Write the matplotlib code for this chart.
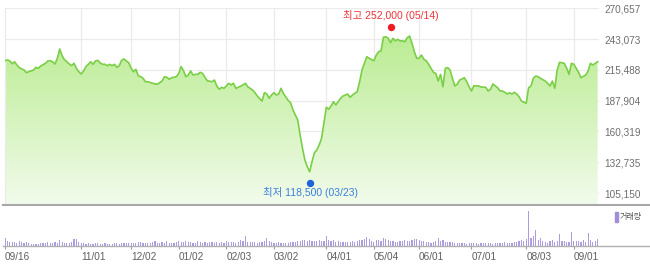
import numpy as np
import matplotlib
matplotlib.use("Agg")
import matplotlib.pyplot as plt
from matplotlib.colors import LinearSegmentedColormap
from matplotlib.lines import Line2D
from matplotlib.patches import Rectangle
import matplotlib.transforms as mtransforms

# ---------------- data ----------------
# trading-day index (0 = 2019-09-16) and closing price
days = [0, 1, 2, 3, 4, 5, 6, 8, 9, 10, 12, 13, 14, 15, 17, 18, 19, 20, 21, 22,
        23, 24, 25, 26, 27, 28, 29, 30, 31, 32, 33, 34, 35, 36, 37, 38, 39, 40,
        41, 42, 43, 44, 45, 46, 47, 48, 49, 50, 51, 52, 53, 54, 55, 56, 57, 58,
        59, 60, 62, 64, 65, 66, 67, 68, 69, 70, 72, 73, 74, 75, 76, 77, 78, 79,
        80, 81, 82, 83, 84, 85, 87, 88, 89, 90, 91, 92, 93, 94, 95, 96, 97, 98,
        100, 101, 102, 104, 105, 106, 108, 109, 110, 111, 112, 113, 114, 115,
        116, 117, 118, 119, 120, 121, 123, 124, 125, 126, 127, 128, 129, 130,
        131, 132, 133, 134, 135, 136, 137, 138, 139, 140, 141, 142, 144, 145,
        146, 147, 148, 149, 150, 152, 153, 155, 156, 157, 158, 159, 160, 161,
        162, 163, 164, 165, 166, 167, 168, 169, 170, 171, 172, 173, 174, 175,
        176, 177, 178, 179, 180, 181, 182, 183, 184, 185, 186, 187, 188, 189,
        190, 191, 192, 193, 194, 195, 196, 197, 199, 200, 202, 203, 204, 205,
        207, 208, 209, 210, 211, 212, 213, 214, 215, 216, 217, 219, 220, 221,
        222, 223, 224, 225, 227, 228, 229, 230, 231, 232, 233, 235, 236, 237,
        238, 239, 240, 241, 242, 244, 245, 246, 247, 248, 249]
closes = [223700, 224400, 223500, 221000, 222800, 219900, 217500, 215400, 213000,
          213900, 215400, 217800, 216900, 219000, 221400, 223500, 223700, 222800,
          220800, 225900, 234200, 228200, 224600, 222800, 220800, 219300, 221400,
          216900, 213900, 211800, 214500, 218400, 220500, 222800, 220500, 223500,
          224100, 221700, 220500, 220500, 219300, 220500, 219300, 220500, 217800,
          219300, 224100, 225300, 223500, 221900, 216900, 213900, 216000, 210300,
          209400, 208000, 204900, 204900, 203500, 202600, 204000, 205500, 209400,
          208900, 207100, 208500, 209400, 212400, 218400, 214800, 209400, 210900,
          214500, 210900, 211500, 211500, 213300, 212400, 208900, 205800, 204900,
          206400, 201100, 198100, 199900, 199000, 201100, 203500, 202000, 203500,
          199000, 199900, 202000, 203500, 200400, 197500, 195100, 192100, 187600,
          195100, 193900, 190000, 193000, 195100, 193000, 193900, 199000, 194300,
          191200, 188100, 186100, 179600, 170600, 157200, 145300, 134800, 128800,
          124300, 133300, 141300, 143700, 148200, 154200, 167700, 182000, 180200,
          183200, 187000, 184100, 187000, 190000, 192100, 193900, 190900, 193000,
          194500, 196000, 204900, 215400, 227300, 225900, 223700, 228800, 231800,
          232700, 244700, 245200, 243800, 239800, 243800, 241600, 242900, 241400,
          241600, 240700, 244300, 245800, 239300, 231800, 225900, 225900, 228800,
          225000, 223700, 220500, 216900, 213300, 212400, 205500, 211500, 200400,
          216900, 217500, 215400, 208000, 201100, 202600, 206400, 207300, 208500,
          204900, 200400, 196600, 201300, 201100, 200200, 199900, 196600, 198100,
          202900, 199500, 196600, 196600, 195400, 193900, 195100, 193900, 195400,
          193900, 191500, 187600, 185600, 199500, 201100, 208000, 210000, 209400,
          208000, 205500, 203500, 201100, 205500, 199000, 215400, 222300, 221400,
          216900, 211500, 221400, 220500, 216900, 213300, 208500, 210900, 214500,
          221400, 219900, 221400, 222800]

# volume (thousand shares), one per trading day 0..249
volumes = [800, 450, 350, 400, 420, 320, 500, 380, 300, 420,
           250, 220, 240, 220, 230, 260, 320, 300, 380, 300,
           280, 420, 300, 600, 380, 300, 320, 280, 420, 700,
           650, 350, 280, 250, 200, 260, 220, 230, 250, 280,
           220, 200, 260, 240, 230, 210, 300, 250, 220, 280,
           330, 300, 280, 250, 320, 280, 420, 380, 300, 260,
           330, 280, 400, 450, 300, 280, 350, 320, 500, 300,
           280, 330, 380, 450, 360, 400, 520, 380, 350, 300,
           320, 480, 350, 300, 400, 330, 420, 380, 320, 400,
           300, 360, 330, 450, 380, 400, 350, 300, 420, 550,
           450, 1000, 380, 350, 400, 380, 320, 350, 420, 500,
           800, 450, 380, 300, 320, 350, 330, 300, 300, 320,
           350, 380, 420, 450, 500, 550, 600, 520, 600, 450,
           500, 480, 550, 520, 450, 1000, 600, 480, 550, 400,
           450, 380, 420, 350, 380, 400, 450, 420, 500, 550,
           600, 700, 900, 650, 500, 420, 600, 550, 500, 800,
           650, 550, 500, 450, 420, 380, 500, 450, 550, 480,
           500, 600, 650, 700, 550, 480, 450, 380, 350, 320,
           400, 450, 800, 500, 550, 400, 350, 420, 380, 320,
           300, 280, 250, 300, 220, 250, 280, 300, 250, 220,
           250, 280, 300, 280, 250, 220, 300, 330, 280, 300,
           350, 320, 300, 280, 350, 400, 500, 600, 450, 700,
           3400, 750, 1000, 1600, 600, 800, 500, 350, 300, 450,
           600, 400, 500, 1200, 500, 450, 400, 350, 1400, 500,
           450, 500, 350, 600, 400, 1300, 550, 350, 450, 700]

tick_days = [0, 32, 53, 73, 93, 113, 135, 155, 174, 196, 219, 239]
tick_labels = ["09/16", "11/01", "12/02", "01/02", "02/03", "03/02", "04/01",
               "05/04", "06/01", "07/01", "08/03", "09/01"]
price_ticks = [105150, 132735, 160319, 187904, 215488, 243073, 270657]

high_day, high_value, high_label = 162, 252000, "최고 252,000 (05/14)"
low_day, low_value, low_label = 128, 118500, "최저 118,500 (03/23)"

# ---------------- figure ----------------
W, H = 650, 264
fig = plt.figure(figsize=(W / 100, H / 100), dpi=100)
FONT = ["Liberation Sans", "Noto Sans CJK KR", "DejaVu Sans"]
plt.rcParams["font.family"] = FONT


def px_rect(x0, y0, x1, y1):
    return [x0 / W, 1 - y1 / H, (x1 - x0) / W, (y1 - y0) / H]


ax = fig.add_axes(px_rect(5, 8.3, 599, 205))
axv = fig.add_axes(px_rect(5, 205, 599, 246), sharex=ax)

xmax = 594 / 2.38
ax.set_xlim(0, xmax)
ax.set_ylim(94490, 270657)

# grid
for v in price_ticks:
    ax.axhline(v, color="#ebebeb", lw=0.9, zorder=0)
for d in tick_days[1:]:
    ax.axvline(d, color="#ebebeb", lw=0.9, zorder=0)

# gradient fill
poly = ax.fill_between(days, closes, 94490, facecolor="none", edgecolor="none")
cmap = LinearSegmentedColormap.from_list("g", ["#f2fbec", "#b2ea84"])
grad = np.linspace(0, 1, 256).reshape(-1, 1)
im = ax.imshow(grad, cmap=cmap, origin="lower", aspect="auto",
               extent=(0, xmax, 94490, 270657), zorder=1)
im.set_clip_path(poly.get_paths()[0], transform=ax.transData)

ax.plot(days, closes, color="#7acf46", lw=1.2, zorder=3, solid_joinstyle="round")

# high / low markers
hi_tr = mtransforms.offset_copy(ax.transData, fig=fig, x=0, y=2.4 * 0.72, units="points")
lo_tr = mtransforms.offset_copy(ax.transData, fig=fig, x=0, y=-4.5 * 0.72, units="points")
ax.plot([high_day], [high_value], "o", color="#ec1c24", ms=4.3, transform=hi_tr, zorder=5)
ax.plot([low_day], [low_value], "o", color="#1f63d8", ms=4.3, transform=lo_tr, zorder=5)
ax.annotate(high_label, (high_day, high_value), xytext=(0.5, 9.5),
            textcoords="offset points", ha="center", va="center",
            color="#f0323a", fontsize=7.5, family=FONT, zorder=6)
ax.annotate(low_label, (low_day, low_value), xytext=(0.5, -10.5),
            textcoords="offset points", ha="center", va="center",
            color="#3a7fdc", fontsize=7.5, family=FONT, zorder=6)

# price axis styling
ax.yaxis.tick_right()
ax.set_yticks(price_ticks)
ax.set_yticklabels([f"{v:,}" for v in price_ticks])
ax.tick_params(axis="y", length=0, pad=3.8, labelsize=7.2, labelcolor="#6e6e6e")
ax.tick_params(axis="x", length=0, labelbottom=False)
for s in ["top", "right", "bottom"]:
    ax.spines[s].set_visible(False)
ax.spines["left"].set_color("#ebebeb")
ax.spines["left"].set_linewidth(0.9)

# volume
axv.bar(range(len(volumes)), volumes, width=0.5, color="#ad9de0", linewidth=0)
axv.set_ylim(0, 4000)
axv.set_yticks([])
for s in ["top", "right", "left", "bottom"]:
    axv.spines[s].set_visible(False)
axv.set_xticks(tick_days)
axv.set_xticklabels(tick_labels, ha="left")
axv.tick_params(axis="x", length=3.0 * 0.72, width=0.8, color="#9a9a9a",
                pad=1.8, labelsize=7.2, labelcolor="#5e5e5e")

# full-width separators
fig.add_artist(Line2D([3 / W, 1], [1 - 205 / H, 1 - 205 / H], color="#a8a8a8",
                      lw=1.5, transform=fig.transFigure))
fig.add_artist(Line2D([3 / W, 1], [1 - 246 / H, 1 - 246 / H], color="#b0b0b0",
                      lw=1.0, transform=fig.transFigure))

# volume legend
fig.add_artist(Rectangle((615 / W, 1 - 222 / H), 3 / W, 10 / H,
                         transform=fig.transFigure, color="#a08ed8"))
fig.text(620 / W, 1 - 216.5 / H, "거래량", fontsize=5.8, color="#555555",
         va="center", ha="left", family=["Noto Sans CJK KR", "DejaVu Sans"])

fig.savefig("out.png", dpi=100)
